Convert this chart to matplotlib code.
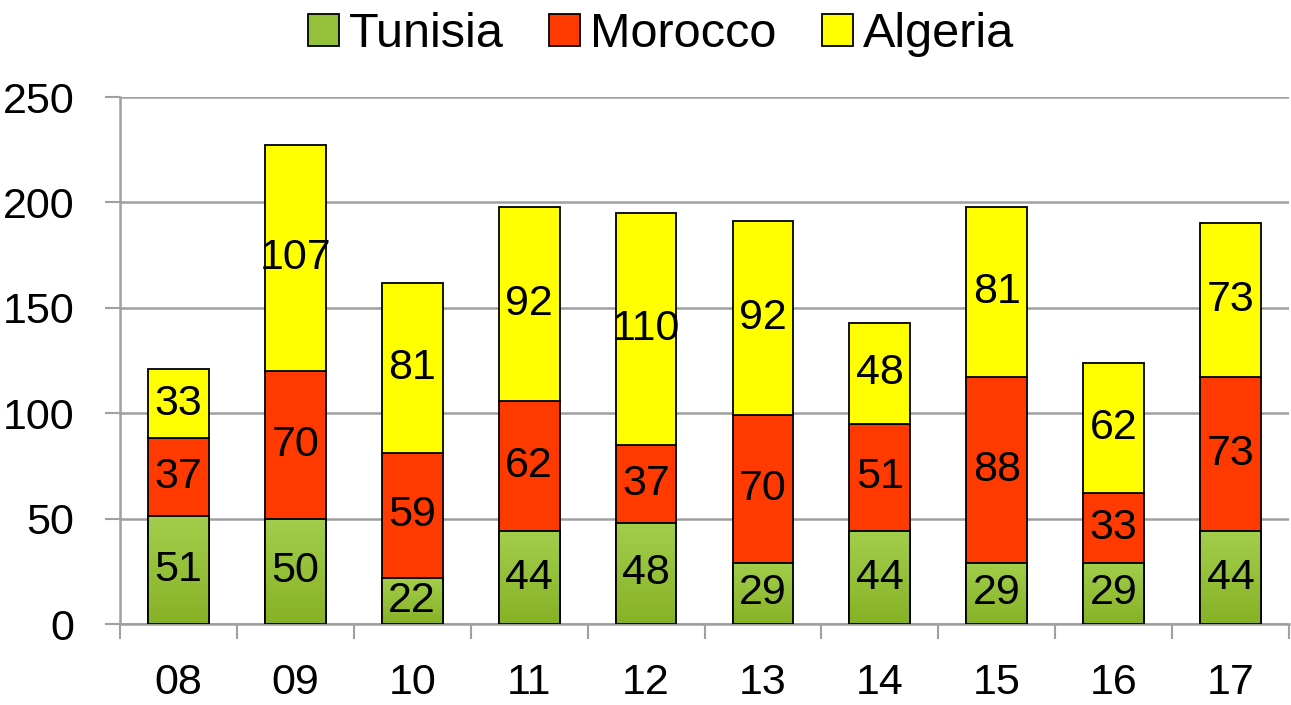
import matplotlib
matplotlib.use("Agg")
from matplotlib import pyplot as plt
from matplotlib.colors import LinearSegmentedColormap
import numpy as np

years = ["08", "09", "10", "11", "12", "13", "14", "15", "16", "17"]
tunisia = [51, 50, 22, 44, 48, 29, 44, 29, 29, 44]
morocco = [37, 70, 59, 62, 37, 70, 51, 88, 33, 73]
algeria = [33, 107, 81, 92, 110, 92, 48, 81, 62, 73]

plt.rcParams['font.family'] = ['Liberation Sans', 'DejaVu Sans']

fig = plt.figure(figsize=(12.91, 7.05), dpi=100)
ax = fig.add_axes([120 / 1291, 81 / 705, 1169 / 1291, 527 / 705])

x = np.arange(len(years))
w = 0.52
tun = np.array(tunisia)
mor = np.array(morocco)
alg = np.array(algeria)

grid_col = "#a0a0a0"
b1 = ax.bar(x, tun, w, color="#95c03a", edgecolor="black", linewidth=1.3, label="Tunisia", zorder=3)
b2 = ax.bar(x, mor, w, bottom=tun, color="#ff3a00", edgecolor="black", linewidth=1.3, label="Morocco", zorder=3)
b3 = ax.bar(x, alg, w, bottom=tun + mor, color="#ffff00", edgecolor="black", linewidth=1.3, label="Algeria", zorder=3)

# green gradient inside tunisia bars
grad = np.linspace(0, 1, 100).reshape(-1, 1)
cmap = LinearSegmentedColormap.from_list("g", ["#87b226", "#a2ce4c"])
for p in b1:
    x0, y0 = p.get_x(), p.get_y()
    im = ax.imshow(grad, cmap=cmap, aspect="auto", origin="lower",
                   extent=[x0, x0 + p.get_width(), y0, y0 + p.get_height()], zorder=3.5)
    im.set_clip_path(p)
    ax.bar(x0 + p.get_width() / 2, p.get_height(), p.get_width(), bottom=y0,
           fill=False, edgecolor="black", linewidth=1.3, zorder=4)

for vals, bottoms in [(tun, np.zeros(len(tun))), (mor, tun), (alg, tun + mor)]:
    for i in range(len(vals)):
        ax.text(x[i], bottoms[i] + vals[i] / 2, str(vals[i]), ha="center", va="center",
                fontsize=31, zorder=5)

ax.set_xlim(-0.5, len(years) - 0.5)
ax.set_ylim(0, 250)
ax.set_yticks([0, 50, 100, 150, 200, 250])
ax.yaxis.grid(True, color=grid_col, linewidth=1.8, zorder=0)
ax.set_axisbelow(True)

ax.set_xticks(x)
ax.set_xticklabels(years)
ax.set_xticks(np.arange(-0.5, len(years)), minor=True)
ax.tick_params(axis="x", which="major", length=0, pad=28, labelsize=31)
ax.tick_params(axis="x", which="minor", length=11, width=1.5, color=grid_col)
ax.tick_params(axis="y", length=11, width=1.5, color=grid_col, pad=22, labelsize=31)

for s in ["top", "right"]:
    ax.spines[s].set_visible(False)
for s in ["left", "bottom"]:
    ax.spines[s].set_color(grid_col)
    ax.spines[s].set_linewidth(1.8)

fig.legend(handles=[b1, b2, b3], labels=["Tunisia", "Morocco", "Algeria"], loc="upper center",
           bbox_to_anchor=(0.512, 1.045), ncol=3, frameon=False, fontsize=35,
           handlelength=0.63, handleheight=0.63, handletextpad=0.2, columnspacing=0.95)

fig.savefig("out.png", dpi=100)
